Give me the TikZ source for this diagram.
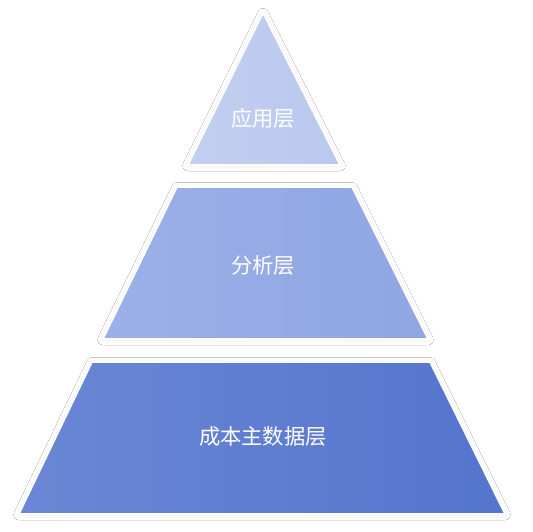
\documentclass[tikz,border=0pt]{standalone}
\usepackage{fontspec}
\newfontfamily\cjk{Noto Sans CJK SC}
\usetikzlibrary{shadows.blur}
\definecolor{topA}{HTML}{C3CFF0}
\definecolor{topB}{HTML}{B9C8EE}
\definecolor{midA}{HTML}{9CB0E8}
\definecolor{midB}{HTML}{8FA6E3}
\definecolor{botA}{HTML}{6B87D6}
\definecolor{botB}{HTML}{5475CC}
\tikzset{
  layer/.style={draw=white, line width=1.2pt, line join=round,
    blur shadow={shadow xshift=0pt, shadow yshift=-0.5pt, shadow blur radius=4pt, shadow opacity=9}},
  lbl/.style={text=white, font=\cjk\fontsize{16}{18}\selectfont}
}
\begin{document}
\begin{tikzpicture}[x=0.75pt,y=-0.75pt]
\useasboundingbox (0,0) rectangle (533,532);
\fill[white] (0,0) rectangle (533,532);
% bottom layer
\path[layer, left color=botA, right color=botB]
  (92,362) coordinate (b1) -- (430,362) coordinate (b2) -- (505,514) coordinate (b3) -- (19,514) coordinate (b4) -- cycle;
% middle layer
\path[layer, left color=midA, right color=midB]
  (177,187) coordinate (m1) -- (352,187) coordinate (m2) -- (428,339) coordinate (m3) -- (103,339) coordinate (m4) -- cycle;
% top layer
\path[layer, left color=topA, right color=topB]
  (263,13) coordinate (t1) -- (340,165) coordinate (t2) -- (188,165) coordinate (t3) -- cycle;
\node[lbl] (lt) at (263,118) {应用层};
\node[lbl] (lm) at (263,265) {分析层};
\node[lbl] (lb) at (263,436) {成本主数据层};
\end{tikzpicture}
\end{document}
